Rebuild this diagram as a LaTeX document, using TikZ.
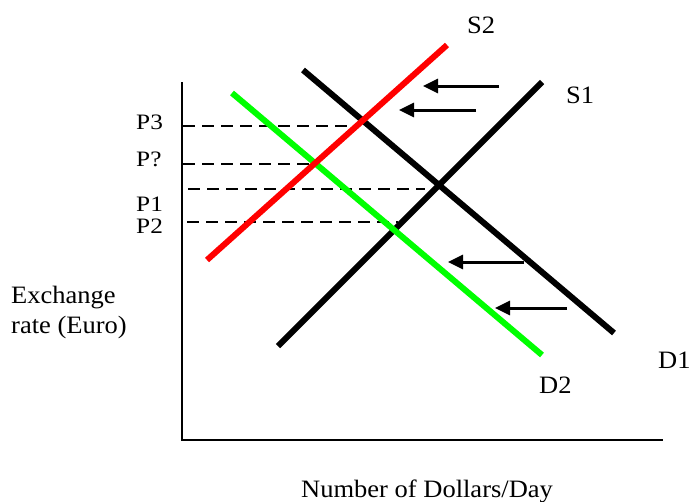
\documentclass[tikz,border=0pt]{standalone}
\usepackage{fontspec}
\setmainfont{Liberation Serif}
\usetikzlibrary{arrows.meta}
\newcommand{\wideA}[1]{\scalebox{1.06}[1]{#1}}
\newcommand{\wideP}[1]{\scalebox{1.15}[1]{#1}}
\begin{document}
\begin{tikzpicture}[x=1pt,y=-1pt,
  lbl/.style={anchor=base west,inner sep=0pt,font=\fontsize{25}{30}\selectfont},
  plbl/.style={anchor=base west,inner sep=0pt,font=\fontsize{22}{26}\selectfont},
  axis/.style={line width=1.3pt},
  curve/.style={line width=6pt},
  guide/.style={line width=1.2pt,dash pattern=on 12pt off 7pt},
  shiftarrow/.style={line width=3pt,-{Triangle[length=15pt,width=14pt]}}]
\useasboundingbox (0,0) rectangle (690,501);
% axes
\coordinate (top) at (182,82);
\coordinate (orig) at (182,440);
\coordinate (xend) at (663,440);
\draw[axis] (top) -- (orig) -- (xend);
% curves
\coordinate (s2a) at (207,260); \coordinate (s2b) at (447,45);
\coordinate (s1a) at (278,346); \coordinate (s1b) at (542,82);
\coordinate (d1a) at (303,70);  \coordinate (d1b) at (614,333);
\coordinate (d2a) at (232,93);  \coordinate (d2b) at (542,355);
% guides
\coordinate (g3a) at (183,126); \coordinate (g3b) at (356,126);
\coordinate (gqa) at (183,164); \coordinate (gqb) at (313,164);
\coordinate (g1a) at (188,189); \coordinate (g1b) at (425,189);
\coordinate (g2a) at (187,222); \coordinate (g2b) at (398,222);
\draw[guide] (g3a) -- (g3b);
\draw[guide] (gqa) -- (gqb);
\draw[guide] (g1a) -- (g1b);
\draw[guide] (g2a) -- (g2b);
\draw[curve,black] (d1a) -- (d1b);
\draw[curve,black] (s1a) -- (s1b);
\draw[curve,green] (d2a) -- (d2b);
\draw[curve,red] (s2a) -- (s2b);
% shift arrows
\coordinate (a1s) at (499,86);  \coordinate (a1e) at (423,86);
\coordinate (a2s) at (476,110); \coordinate (a2e) at (399,110);
\coordinate (a3s) at (524,262); \coordinate (a3e) at (448,262);
\coordinate (a4s) at (567,308); \coordinate (a4e) at (495,308);
\draw[shiftarrow] (a1s) -- (a1e);
\draw[shiftarrow] (a2s) -- (a2e);
\draw[shiftarrow] (a3s) -- (a3e);
\draw[shiftarrow] (a4s) -- (a4e);
% labels
\node[plbl] (p3) at (136,129) {\wideP{P3}};
\node[plbl] (pq) at (136,166) {\wideP{P?}};
\node[plbl] (p1) at (136,211) {\wideP{P1}};
\node[plbl] (p2) at (136,233) {\wideP{P2}};
\node[lbl] (ls2) at (467,33) {\wideA{S2}};
\node[lbl] (ls1) at (566,103) {\wideA{S1}};
\node[lbl] (ld1) at (658,368) {\wideA{D1}};
\node[lbl] (ld2) at (539,393) {\wideA{D2}};
\node[lbl] (ex1) at (11,303) {\wideA{Exchange}};
\node[lbl] (ex2) at (11,333) {\wideA{rate (Euro)}};
\node[lbl] (xl) at (301,497) {\wideA{Number of Dollars/Day}};
\end{tikzpicture}
\end{document}
